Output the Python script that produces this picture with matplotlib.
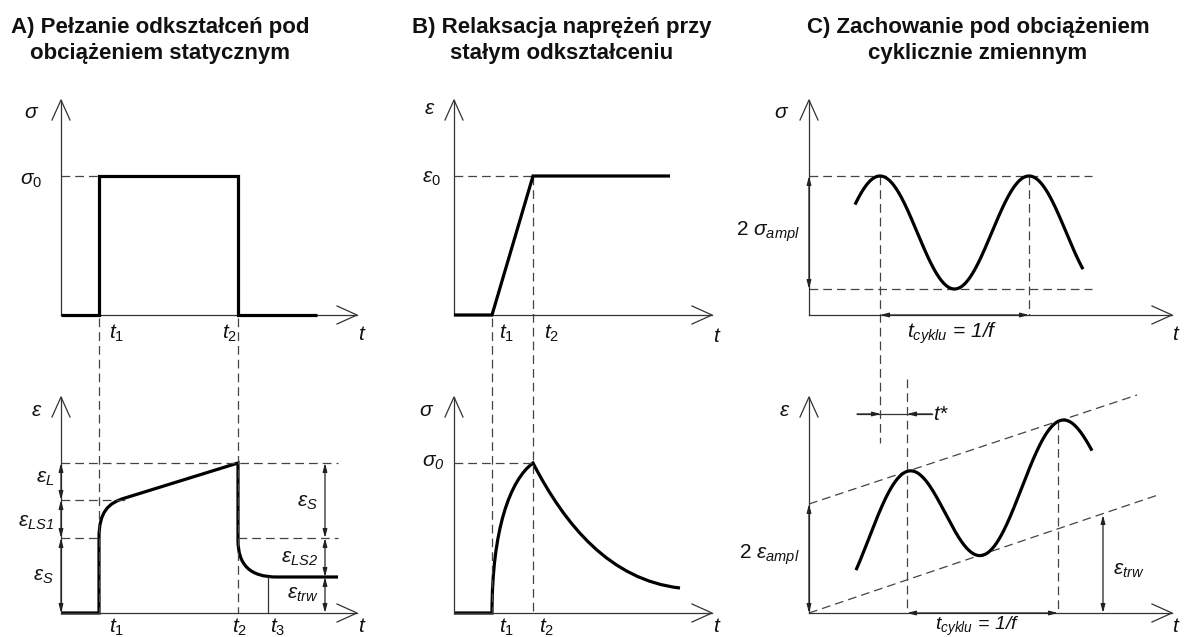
import numpy as np
import matplotlib.pyplot as plt
from matplotlib.path import Path
from matplotlib.patches import PathPatch

plt.rcParams['font.family'] = ['Liberation Sans', 'DejaVu Sans']
plt.rcParams['mathtext.fontset'] = 'custom'
plt.rcParams['mathtext.rm'] = 'Liberation Sans'
plt.rcParams['mathtext.it'] = 'Liberation Sans:italic'
plt.rcParams['mathtext.sf'] = 'Liberation Sans:italic'
plt.rcParams['mathtext.bf'] = 'Liberation Sans:bold'

# schematic drawn in picture coordinates (x right, y down)
axis_x = [61, 454, 809]            # sigma / epsilon axis of panels A, B, C
axis_tip_x = [357, 712, 1172]      # tip of the t axis
base_y = [315, 613]                # t axis of upper / lower row
tip_y = [100, 397]                 # tip of the vertical axes

titles = [['A) Pełzanie odkształceń pod', 'obciążeniem statycznym'],
          ['B) Relaksacja naprężeń przy', 'stałym odkształceniu'],
          ['C) Zachowanie pod obciążeniem', 'cyklicznie zmiennym']]
title_x = [160, 562, 978]
title_y = [28, 54]

# A: load step and creep curve
A_load_t = [61, 99, 99, 238, 238, 317]
A_load_y = [315, 315, 176, 176, 315, 315]
A_creep_pts = [(61, 613), (99, 613), (99, 538), (99, 512), (108, 503), (125, 498),
               (238, 463), (238, 540), (238, 565), (250, 577), (277, 577), (338, 577)]
A_creep_codes = ['M', 'L', 'L', 'C', 'C', 'C', 'L', 'L', 'C', 'C', 'C', 'L']

# B: strain ramp and stress relaxation
B_strain_t = [454, 492, 533, 670]
B_strain_y = [315, 315, 176, 176]
B_stress_pts = [(454, 613), (492, 613), (492, 530), (510, 480), (533, 463),
                (565, 525), (610, 580), (680, 588)]
B_stress_codes = ['M', 'L', 'C', 'C', 'C', 'C', 'C', 'C']

# C: cyclic stress and strain
C_sig_range = [855, 1083]
C_sig_peak, C_sig_period, C_sig_mid, C_sig_amp = 880, 149, 232.5, 56.5
C_eps_range = [856, 1092]
C_eps_peak, C_eps_period, C_eps_amp = 907, 153, 54.5
C_env_upper = [(809, 504), (1137, 395)]
C_env_lower = [(809, 613), (1158, 495)]

# dashed helper lines (x0, y0, x1, y1)
dashed = [
    (61, 176, 99, 176), (99, 318, 99, 613), (238, 318, 238, 613),
    (61, 463, 338, 463), (61, 500, 125, 500), (61, 538, 99, 538), (238, 538, 338, 538),
    (454, 176, 533, 176), (533, 176, 533, 613), (492, 318, 492, 613), (454, 463, 533, 463),
    (809, 176, 1092, 176), (809, 289, 1092, 289), (880, 176, 880, 443), (1029, 176, 1029, 315),
    (907, 379, 907, 613), (1058, 421, 1058, 613),
]
solid_thin = [(268, 577, 268, 613), (857, 414, 932, 414)]

# dimension arrows (x0, y0, x1, y1)
dims = [
    (61, 463, 61, 500), (61, 500, 61, 538), (61, 538, 61, 613),
    (325, 463, 325, 538), (325, 538, 325, 577), (325, 577, 325, 613),
    (809, 176, 809, 289), (880, 315, 1029, 315),
    (809, 504, 809, 613), (907, 613, 1058, 613), (1103, 515, 1103, 613),
]
single_arrows = [(857, 414, 881, 414), (932, 414, 907, 414)]

# labels (x, y, text, ha, va, size)
labels = [
    (32, 113, r'$\sigma$', 'center', 'center', 15), (31, 180, r'$\sigma_0$', 'center', 'center', 15),
    (117, 333, r'$t_1$', 'center', 'center', 15), (230, 333, r'$t_2$', 'center', 'center', 15),
    (362, 335, r'$t$', 'center', 'center', 15),
    (37, 410, r'$\varepsilon$', 'center', 'center', 15),
    (117, 617, r'$t_1$', 'center', 'top', 15), (240, 617, r'$t_2$', 'center', 'top', 15),
    (278, 617, r'$t_3$', 'center', 'top', 15), (362, 617, r'$t$', 'center', 'top', 15),
    (54, 478, r'$\varepsilon_{\mathsf{L}}$', 'right', 'center', 15),
    (54, 523, r'$\varepsilon_{\mathsf{LS1}}$', 'right', 'center', 15),
    (54, 577, r'$\varepsilon_{\mathsf{S}}$', 'right', 'center', 15),
    (318, 502, r'$\varepsilon_{\mathsf{S}}$', 'right', 'center', 15),
    (318, 558, r'$\varepsilon_{\mathsf{LS2}}$', 'right', 'center', 15),
    (318, 595, r'$\varepsilon_{\mathsf{trw}}$', 'right', 'center', 15),
    (430, 108, r'$\varepsilon$', 'center', 'center', 15), (431, 178, r'$\varepsilon_0$', 'center', 'center', 15),
    (507, 333, r'$t_1$', 'center', 'center', 15), (552, 333, r'$t_2$', 'center', 'center', 15),
    (717, 336, r'$t$', 'center', 'center', 15),
    (427, 410, r'$\sigma$', 'center', 'center', 15),
    (433, 463, r'$\sigma_{\mathsf{0}}$', 'center', 'center', 15),
    (507, 617, r'$t_1$', 'center', 'top', 15), (547, 617, r'$t_2$', 'center', 'top', 15),
    (717, 617, r'$t$', 'center', 'top', 15),
    (782, 113, r'$\sigma$', 'center', 'center', 15),
    (800, 232, r'2 $\sigma_{\mathsf{ampl}}$', 'right', 'center', 15),
    (952, 333, r'$t_{\mathsf{cyklu}}$ = 1/f', 'center', 'center', 15),
    (1176, 335, r'$t$', 'center', 'center', 15),
    (785, 410, r'$\varepsilon$', 'center', 'center', 15), (933, 414, r'$t$*', 'left', 'center', 15),
    (800, 555, r'2 $\varepsilon_{\mathsf{ampl}}$', 'right', 'center', 15),
    (1113, 570, r'$\varepsilon_{\mathsf{trw}}$', 'left', 'center', 15),
    (977, 615, r'$t_{\mathsf{cyklu}}$ = 1/f', 'center', 'top', 14),
    (1176, 617, r'$t$', 'center', 'top', 15),
]

code_map = {'M': Path.MOVETO, 'L': Path.LINETO, 'C': Path.CURVE4}
curve_kw = dict(color='black', lw=2.3, solid_capstyle='butt', solid_joinstyle='miter')
axis_kw = dict(color='#333333', lw=0.9)
dash_kw = dict(color='#444444', lw=0.9, dashes=(7, 4))

fig = plt.figure(figsize=(11.84, 6.37), dpi=100)
ax = fig.add_axes([0, 0, 1, 1])
ax.set_xlim(0, 1184)
ax.set_ylim(637, 0)
ax.axis('off')

for x0, y0, x1, y1 in dashed:
    ax.plot([x0, x1], [y0, y1], **dash_kw)
for (x0, y0), (x1, y1) in [C_env_upper, C_env_lower]:
    ax.plot([x0, x1], [y0, y1], **dash_kw)
for x0, y0, x1, y1 in solid_thin:
    ax.plot([x0, x1], [y0, y1], **axis_kw)

# axes with open arrow heads
for ax_x, ax_tip in zip(axis_x, axis_tip_x):
    for by, ty in zip(base_y, tip_y):
        ax.plot([ax_x, ax_x], [by, ty], **axis_kw)
        ax.plot([ax_x - 9, ax_x, ax_x + 9], [ty + 20, ty, ty + 20], **axis_kw)
        ax.plot([ax_x, ax_tip], [by, by], **axis_kw)
        ax.plot([ax_tip - 20, ax_tip, ax_tip - 20], [by - 9, by, by + 9], **axis_kw)

arrow_kw = dict(arrowstyle='<|-|>,head_length=0.5,head_width=0.13', color='#222222',
                lw=0.9, shrinkA=0, shrinkB=0, mutation_scale=10)
for x0, y0, x1, y1 in dims:
    ax.annotate('', xy=(x1, y1), xytext=(x0, y0), arrowprops=arrow_kw)
for x0, y0, x1, y1 in single_arrows:
    ax.annotate('', xy=(x1, y1), xytext=(x0, y0),
                arrowprops=dict(arrow_kw, arrowstyle='-|>,head_length=0.5,head_width=0.13'))

# curves
ax.plot(A_load_t, A_load_y, **curve_kw)
ax.plot(B_strain_t, B_strain_y, **curve_kw)
for pts, codes in [(A_creep_pts, A_creep_codes), (B_stress_pts, B_stress_codes)]:
    path = Path(pts, [code_map[c] for c in codes])
    ax.add_patch(PathPatch(path, fill=False, edgecolor='black', lw=2.3, joinstyle='miter'))

ts = np.linspace(C_sig_range[0], C_sig_range[1], 300)
ax.plot(ts, C_sig_mid - C_sig_amp * np.cos(2 * np.pi * (ts - C_sig_peak) / C_sig_period), **curve_kw)

te = np.linspace(C_eps_range[0], C_eps_range[1], 300)
(ux0, uy0), (ux1, uy1) = C_env_upper
slope = (uy1 - uy0) / (ux1 - ux0)
mid0 = (C_env_upper[0][1] + C_env_lower[0][1]) / 2
ax.plot(te, mid0 + slope * (te - ux0) - C_eps_amp * np.cos(2 * np.pi * (te - C_eps_peak) / C_eps_period),
        **curve_kw)

for x, y, s, ha, va, size in labels:
    style = 'italic' if 'cyklu' in s or '*' in s else 'normal'
    ax.text(x, y, s, ha=ha, va=va, fontsize=size, style=style, color='#111111')

for x, lines in zip(title_x, titles):
    for y, t in zip(title_y, lines):
        ax.text(x, y, t, ha='center', va='center', fontsize=16, fontweight='bold', color='#111111')

fig.savefig('out.png', dpi=100)
